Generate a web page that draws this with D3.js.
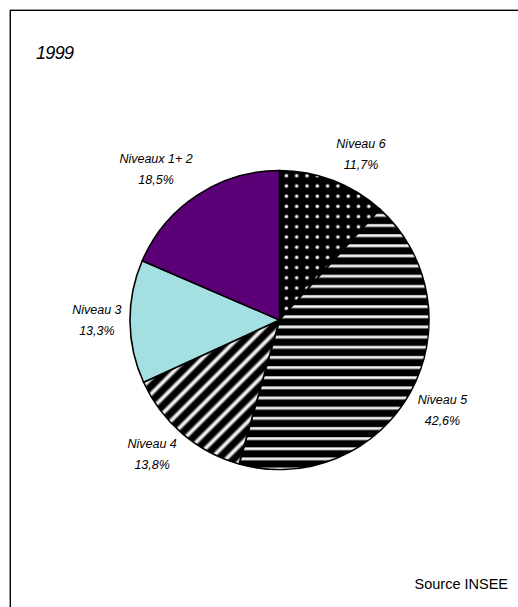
<!DOCTYPE html>
<html>
<head>
<meta charset="utf-8">
<script src="https://cdn.jsdelivr.net/npm/d3@7"></script>
<style>
  body { margin: 0; background: #fff; }
  svg { display: block; }
  text { font-family: "Liberation Sans", Arial, sans-serif; fill: #000; }
</style>
</head>
<body>
<div id="chart"></div>
<script>
// data
var year = "1999"
var categories = ["Niveau 6", "Niveau 5", "Niveau 4", "Niveau 3", "Niveaux 1+ 2"]
var shares = [11.7, 42.6, 13.8, 13.3, 18.5]
var shareLabels = ["11,7%", "42,6%", "13,8%", "13,3%", "18,5%"]
var source = "Source INSEE"

var width = 518, height = 607
var cx = 279.5, cy = 320, radius = 149.5

var svg = d3.select("#chart").append("svg")
    .attr("width", width)
    .attr("height", height)

var defs = svg.append("defs")

// dotted pattern (Niveau 6)
var dots = defs.append("pattern")
    .attr("id", "dots")
    .attr("patternUnits", "userSpaceOnUse")
    .attr("width", 10.3).attr("height", 10.2)
    .attr("x", cx + 0.5).attr("y", cy)
dots.append("rect").attr("width", 10.3).attr("height", 10.2).attr("fill", "#000")
dots.append("circle").attr("cx", 5).attr("cy", 5).attr("r", 2).attr("fill", "#888")
dots.append("circle").attr("cx", 5).attr("cy", 5).attr("r", 1.3).attr("fill", "#fff")

// horizontal stripes (Niveau 5)
var hstripes = defs.append("pattern")
    .attr("id", "hstripes")
    .attr("patternUnits", "userSpaceOnUse")
    .attr("width", 20).attr("height", 10.15)
    .attr("y", cy)
hstripes.append("rect").attr("width", 20).attr("height", 10.15).attr("fill", "#000")
hstripes.append("rect").attr("y", 0).attr("width", 20).attr("height", 3.2).attr("fill", "#b8b8b8")
hstripes.append("rect").attr("y", 1).attr("width", 20).attr("height", 1.3).attr("fill", "#fff")

// diagonal soft stripes (Niveau 4)
var grad = defs.append("linearGradient")
    .attr("id", "diagGrad")
    .attr("x1", 0).attr("x2", 1).attr("y1", 0).attr("y2", 0)
var stops = [[0, "#000"], [0.22, "#000"], [0.45, "#fff"], [0.55, "#fff"], [0.78, "#000"], [1, "#000"]]
grad.selectAll("stop").data(stops).join("stop")
    .attr("offset", d => d[0])
    .attr("stop-color", d => d[1])

var diag = defs.append("pattern")
    .attr("id", "diag")
    .attr("patternUnits", "userSpaceOnUse")
    .attr("width", 11).attr("height", 20)
    .attr("patternTransform", "rotate(45)")
diag.append("rect").attr("width", 11).attr("height", 20).attr("fill", "url(#diagGrad)")

var fills = ["url(#dots)", "url(#hstripes)", "url(#diag)", "#a4e0e2", "#5c0078"]

// frame
svg.append("rect")
    .attr("x", 10.3).attr("y", 10.3)
    .attr("width", 700).attr("height", 700)
    .attr("fill", "none")
    .attr("stroke", "#000")
    .attr("stroke-width", 1.4)

svg.append("text")
    .attr("x", 36).attr("y", 59)
    .attr("font-size", 18)
    .attr("font-style", "italic")
    .attr("textLength", 38)
    .text(year)

var pie = d3.pie().sort(null).value(d => d)
var arcs = pie(shares)

var arc = d3.arc().innerRadius(0).outerRadius(radius)

var g = svg.append("g").attr("transform", `translate(${cx},${cy})`)

g.selectAll("path.slice")
    .data(arcs)
    .join("path")
    .attr("class", "slice")
    .attr("d", arc)
    .attr("fill", (d, i) => fills[i])
    .attr("stroke", "#000")
    .attr("stroke-width", 1.6)
    .attr("stroke-linejoin", "round")

// labels, placed outside the pie like the spreadsheet does
var labelR = 158
var lineGap = 21
arcs.forEach(function(d, i) {
    var a = (d.startAngle + d.endAngle) / 2
    var sx = Math.sin(a), sy = -Math.cos(a)
    var px = labelR * sx, py = labelR * sy

    var lab = g.append("g")
    var t1 = lab.append("text")
        .attr("font-size", 12.5).attr("font-style", "italic")
        .attr("text-anchor", "middle")
        .text(categories[i])
    var t2 = lab.append("text")
        .attr("font-size", 12.5).attr("font-style", "italic")
        .attr("text-anchor", "middle")
        .text(shareLabels[i])

    var w = Math.max(t1.node().getComputedTextLength(), t2.node().getComputedTextLength())
    var h = lineGap + 12
    var kx = Math.max(-1, Math.min(1, sx * 3))
    var ky = Math.max(-1, Math.min(1, sy * 3))
    var mx = px + kx * w / 2
    var my = py + ky * h / 2

    t1.attr("x", mx).attr("y", my - h / 2 + 8)
    t2.attr("x", mx).attr("y", my - h / 2 + 8 + lineGap)
})

svg.append("text")
    .attr("x", 508).attr("y", 589)
    .attr("text-anchor", "end")
    .attr("font-size", 14.5)
    .text(source)
</script>
</body>
</html>
